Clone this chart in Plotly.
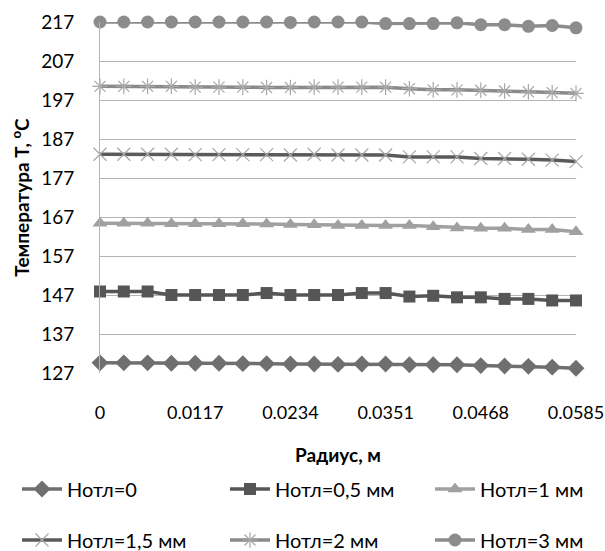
import plotly.graph_objects as go

radius = [round(i * 0.002925, 6) for i in range(21)]
tick_vals = [0, 0.0117, 0.0234, 0.0351, 0.0468, 0.0585]
tick_text = ["0", "0.0117", "0.0234", "0.0351", "0.0468", "0.0585"]
y_ticks = [127, 137, 147, 157, 167, 177, 187, 197, 207, 217]

h0 = [129.6, 129.6, 129.6, 129.5, 129.5, 129.5, 129.4, 129.4, 129.3, 129.3, 129.2,
      129.3, 129.3, 129.1, 129.1, 129.1, 128.9, 128.8, 128.7, 128.5, 128.2]
h05 = [147.9, 147.9, 147.9, 147.0, 147.0, 147.0, 147.0, 147.5, 147.0, 147.0, 147.0,
       147.5, 147.5, 146.6, 146.8, 146.4, 146.4, 146.0, 146.0, 145.6, 145.6]
h1 = [165.4, 165.4, 165.4, 165.3, 165.3, 165.3, 165.3, 165.2, 165.1, 165.0, 164.8,
      164.8, 164.8, 164.8, 164.5, 164.2, 164.1, 164.1, 163.8, 163.8, 163.2]
h15 = [183.1, 183.1, 183.1, 183.1, 183.0, 183.0, 183.0, 183.0, 182.9, 183.1, 182.9,
       182.9, 182.9, 182.4, 182.4, 182.4, 182.0, 182.0, 181.8, 181.6, 181.2]
h2 = [200.5, 200.5, 200.5, 200.5, 200.3, 200.3, 200.3, 200.2, 200.2, 200.3, 200.3,
      200.3, 200.3, 199.9, 199.6, 199.6, 199.5, 199.3, 199.1, 198.9, 198.7]
h3 = [217.0, 217.0, 217.0, 217.0, 217.0, 217.0, 217.0, 217.0, 216.9, 217.0, 217.0,
      217.0, 216.6, 216.6, 216.6, 216.8, 216.3, 216.3, 215.9, 216.1, 215.5]

FONT = "Lato, 'Open Sans', sans-serif"

# name, values, line colour, symbol, size, marker colour, legend id
series = [
    ("Нотл=0", h0, "#6f6f6f", "diamond", 13, "#6f6f6f", "legend"),
    ("Нотл=0,5 мм", h05, "#565656", "square", 12, "#565656", "legend2"),
    ("Нотл=1 мм", h1, "#a0a0a0", "triangle-up", 13, "#a0a0a0", "legend3"),
    ("Нотл=1,5 мм", h15, "#5a5a5a", "x-thin", 13, "#a8a8a8", "legend4"),
    ("Нотл=2 мм", h2, "#8a8a8a", "asterisk", 13, "#a8a8a8", "legend5"),
    ("Нотл=3 мм", h3, "#8c8c8c", "circle", 13, "#8c8c8c", "legend6"),
]

fig = go.Figure()
for name, ys, lc, sym, sz, mc, lg in series:
    marker = dict(symbol=sym, size=sz, color=mc)
    if sym in ("x-thin", "asterisk"):
        marker["line"] = dict(color=mc, width=1.2)
    fig.add_trace(go.Scatter(
        x=radius, y=ys, name=name, mode="lines+markers",
        line=dict(color=lc, width=3.5), marker=marker,
        cliponaxis=False, legend=lg,
    ))

# legend anchor positions in container pixels (left x, centre y)
legend_pos = {
    "legend": (13, 489), "legend2": (221, 489), "legend3": (426, 489),
    "legend4": (13, 540), "legend5": (221, 540), "legend6": (426, 540),
}
W, H = 605, 551
legend_layout = {}
for key, (px, py) in legend_pos.items():
    legend_layout[key] = dict(
        xref="container", yref="container",
        x=(px + 4) / W, xanchor="left", y=1 - py / H, yanchor="middle",
        orientation="h", font=dict(size=20, family=FONT), bgcolor="rgba(0,0,0,0)",
        itemwidth=40,
    )

fig.update_layout(
    width=W, height=H,
    margin=dict(l=100, r=29, t=22, b=178),
    plot_bgcolor="white", paper_bgcolor="white",
    font=dict(family=FONT, color="#000000", size=18),
    showlegend=True,
    xaxis=dict(range=[0, 0.0585], tickvals=tick_vals, ticktext=tick_text,
               showgrid=False, zeroline=False, showline=False,
               ticks="", tickfont=dict(size=18), ticklabelstandoff=27,
               ticklabeloverflow="allow", automargin=False,
               title=dict(text="<b>Радиус, м</b>", font=dict(size=19), standoff=26)),
    yaxis=dict(range=[127, 217], tickvals=y_ticks, showgrid=True,
               gridcolor="#b4b4b4", gridwidth=1, zeroline=False,
               showline=True, linecolor="#b4b4b4", linewidth=1, ticks="",
               tickfont=dict(size=19), ticklabelstandoff=21, automargin=False,
               title=dict(text="<b>Температура Т, <sup>o</sup>С</b>", font=dict(size=19), standoff=6)),
    **legend_layout,
)

fig.write_html("out.html")
